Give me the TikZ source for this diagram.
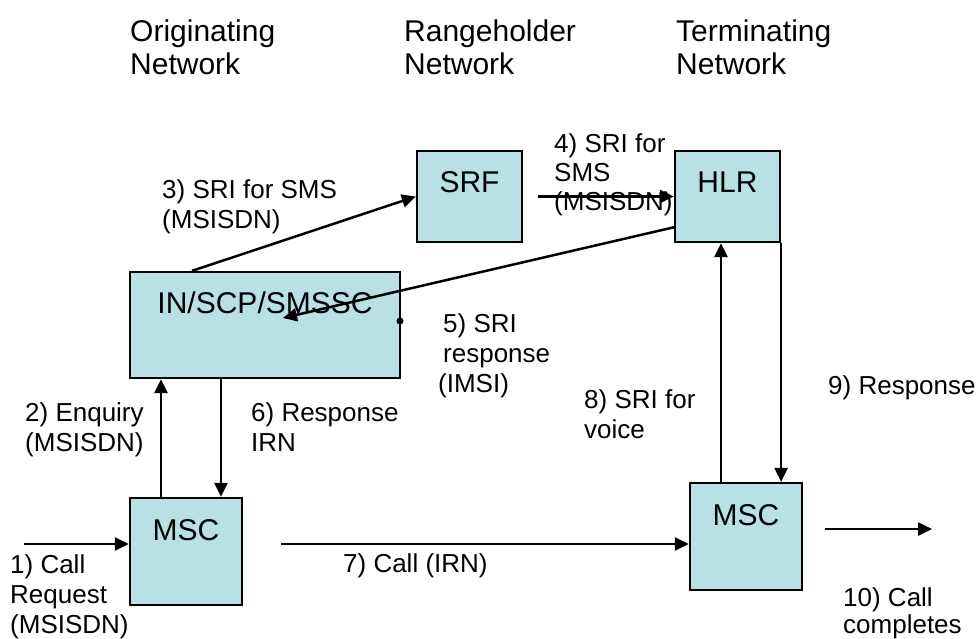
\documentclass[tikz,border=0pt]{standalone}
\usepackage{fontspec}
\setmainfont{Liberation Sans}
\usetikzlibrary{arrows.meta}
\definecolor{boxfill}{RGB}{185,224,228}
\begin{document}
\begin{tikzpicture}[x=1pt,y=-1pt,
  box/.style={draw=black, line width=2.3pt, fill=boxfill, inner sep=0pt},
  boxlbl/.style={font=\fontsize{30}{33}\selectfont, anchor=base, inner sep=0pt},
  lbl/.style={font=\fontsize{26}{30}\selectfont, anchor=base west, inner sep=0pt, align=left},
  ttl/.style={font=\fontsize{30}{33}\selectfont, anchor=base west, inner sep=0pt, align=left},
  arr/.style={line width=2.5pt, -{Triangle[length=14pt,width=13pt]}},
]
\useasboundingbox (0,0) rectangle (978,638);
% boxes
\node[box, minimum width=105pt, minimum height=91pt] (srf) at (469.5,196.5) {};
\node[box, minimum width=105pt, minimum height=91pt] (hlr) at (727.5,196.5) {};
\node[box, minimum width=270pt, minimum height=106pt] (in) at (265,325) {};
\node[box, minimum width=112pt, minimum height=107pt] (mscl) at (186,551.5) {};
\node[box, minimum width=112pt, minimum height=107pt] (mscr) at (746,536.5) {};
% box labels
\node[boxlbl] (srft) at (469.5,192) {SRF};
\node[boxlbl] (hlrt) at (727.5,192) {HLR};
\node[boxlbl] (int) at (265,313) {IN/SCP/SMSSC};
\node[boxlbl] (msclt) at (186,540) {MSC};
\node[boxlbl] (mscrt) at (746,525) {MSC};
% titles (anchor base = last line)
\node[ttl] (t1) at (130,74) {Originating\\Network};
\node[ttl] (t2) at (404,74) {Rangeholder\\Network};
\node[ttl] (t3) at (676,74) {Terminating\\Network};
% edge labels (anchor base = last line)
\node[lbl] (l3) at (162,228) {3) SRI for SMS\\(MSISDN)};
\node[lbl] (l4) at (554,210) {4) SRI for\\[-1pt]SMS\\[-1pt](MSISDN)};
\node[lbl] (l5) at (438,392) {\hspace*{5pt}5) SRI\\\hspace*{5pt}response\\(IMSI)};
\node[lbl] (l2) at (25,451) {2) Enquiry\\(MSISDN)};
\node[lbl] (l6) at (251,451) {6) Response\\IRN};
\node[lbl] (l8) at (584,438) {8) SRI for\\voice};
\node[lbl] (l9) at (828,394) {9) Response};
\node[lbl] (l1) at (10,633) {1) Call\\Request\\(MSISDN)};
\node[lbl] (l7) at (343,572) {7) Call (IRN)};
\node[lbl] (l10) at (843,633) {10) Call\\[-3pt]completes};
% helper coordinates
\coordinate (c1) at (24,544);
\coordinate (x2) at (161,0);
\coordinate (x6) at (221,0);
\coordinate (x3) at (192,0);
\coordinate (c4) at (538,196.5);
\coordinate (c5) at (675,227);
\coordinate (c5e) at (283,318);
\coordinate (c7) at (281,544);
\coordinate (x8) at (721,0);
\coordinate (c10s) at (825,529);
\coordinate (c10e) at (932,529);
% connectors
\draw[arr] (c1) -- (c1 -| mscl.west);
\draw[arr] (x2 |- mscl.north) -- (x2 |- in.south);
\draw[arr] (x6 |- in.south) -- (x6 |- mscl.north);
\draw[arr] (x3 |- in.north) -- (srf.west);
\draw[arr] (c4) -- (hlr.west);
\draw[arr] (c5) -- (c5e);
\fill (400,321) circle (3.5pt);
\draw[arr] (c7) -- (c7 -| mscr.west);
\draw[arr] (x8 |- mscr.north) -- (x8 |- hlr.south);
\draw[arr] (hlr.south east) -- (hlr.south east |- mscr.north);
\draw[arr] (c10s) -- (c10e);
\end{tikzpicture}
\end{document}
